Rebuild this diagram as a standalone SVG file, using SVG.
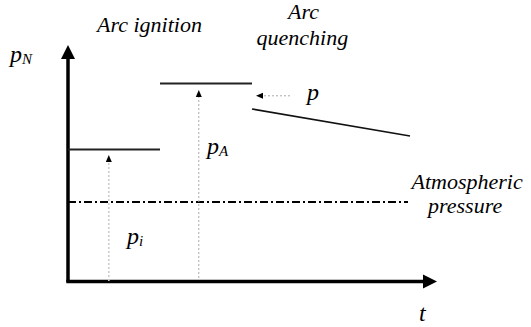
<svg xmlns="http://www.w3.org/2000/svg" width="531" height="327" viewBox="0 0 531 327">
<g id="label-arc-ignition"><text x="97" y="31.5" font-family="Liberation Serif" font-style="italic" font-size="22">Arc ignition</text></g>
<g id="label-arc-quenching"><text x="288" y="18.5" font-family="Liberation Serif" font-style="italic" font-size="22">Arc</text><text x="256.5" y="45" font-family="Liberation Serif" font-style="italic" font-size="22">quenching</text></g>
<g id="label-atmospheric"><text x="411.5" y="189" font-family="Liberation Serif" font-style="italic" font-size="22">Atmospheric</text><text x="428" y="213" font-family="Liberation Serif" font-style="italic" font-size="22">pressure</text></g>
<g id="label-pN"><text x="10" y="61.5" font-family="Liberation Serif" font-style="italic" font-size="24">p<tspan font-size="15" dy="2">N</tspan></text></g>
<g id="label-pA"><text x="207" y="154" font-family="Liberation Serif" font-style="italic" font-size="24">p<tspan font-size="15" dy="2">A</tspan></text></g>
<g id="label-pi"><text x="127" y="243.5" font-family="Liberation Serif" font-style="italic" font-size="24">p<tspan font-size="15" dy="2">i</tspan></text></g>
<g id="label-p"><text x="307" y="100" font-family="Liberation Serif" font-style="italic" font-size="24">p</text></g>
<g id="label-t"><text x="419" y="321" font-family="Liberation Serif" font-style="italic" font-size="24">t</text></g>
<g id="connectors">
  <g stroke="#000" stroke-width="3.5" fill="none">
    <line x1="68" y1="282" x2="68" y2="57"/>
    <line x1="66.3" y1="281.5" x2="425" y2="281.5"/>
  </g>
  <g fill="#000" stroke="none">
    <path d="M68,45 L75,59 L61,59 Z"/>
    <path d="M437,281.5 L423,274.5 L423,288.5 Z"/>
  </g>
  <g stroke="#222" stroke-width="2" fill="none">
    <line x1="68" y1="149.5" x2="160" y2="149.5"/>
    <line x1="160" y1="83.5" x2="252" y2="83.5"/>
  </g>
  <line stroke="#111" stroke-width="1.6" x1="252" y1="109" x2="410" y2="136"/>
  <line stroke="#000" stroke-width="2" stroke-dasharray="8 3 2 3" x1="68" y1="202" x2="408" y2="202"/>
  <line stroke="#ccc" stroke-width="1.6" stroke-dasharray="2 2" x1="108.8" y1="281" x2="108.8" y2="161"/>
  <g stroke="#aaa" stroke-width="1" stroke-dasharray="2 2" fill="none">
    <line x1="198.8" y1="278" x2="198.8" y2="96"/>
    <line x1="290" y1="95.8" x2="262" y2="95.8"/>
  </g>
  <g fill="#000" stroke="none">
    <path d="M108.8,155 L111.8,162 L105.8,162 Z"/>
    <path d="M198.8,90 L201.8,97 L195.8,97 Z"/>
    <path d="M256,95.8 L263,92.8 L263,98.8 Z"/>
  </g>
</g>
</svg>
